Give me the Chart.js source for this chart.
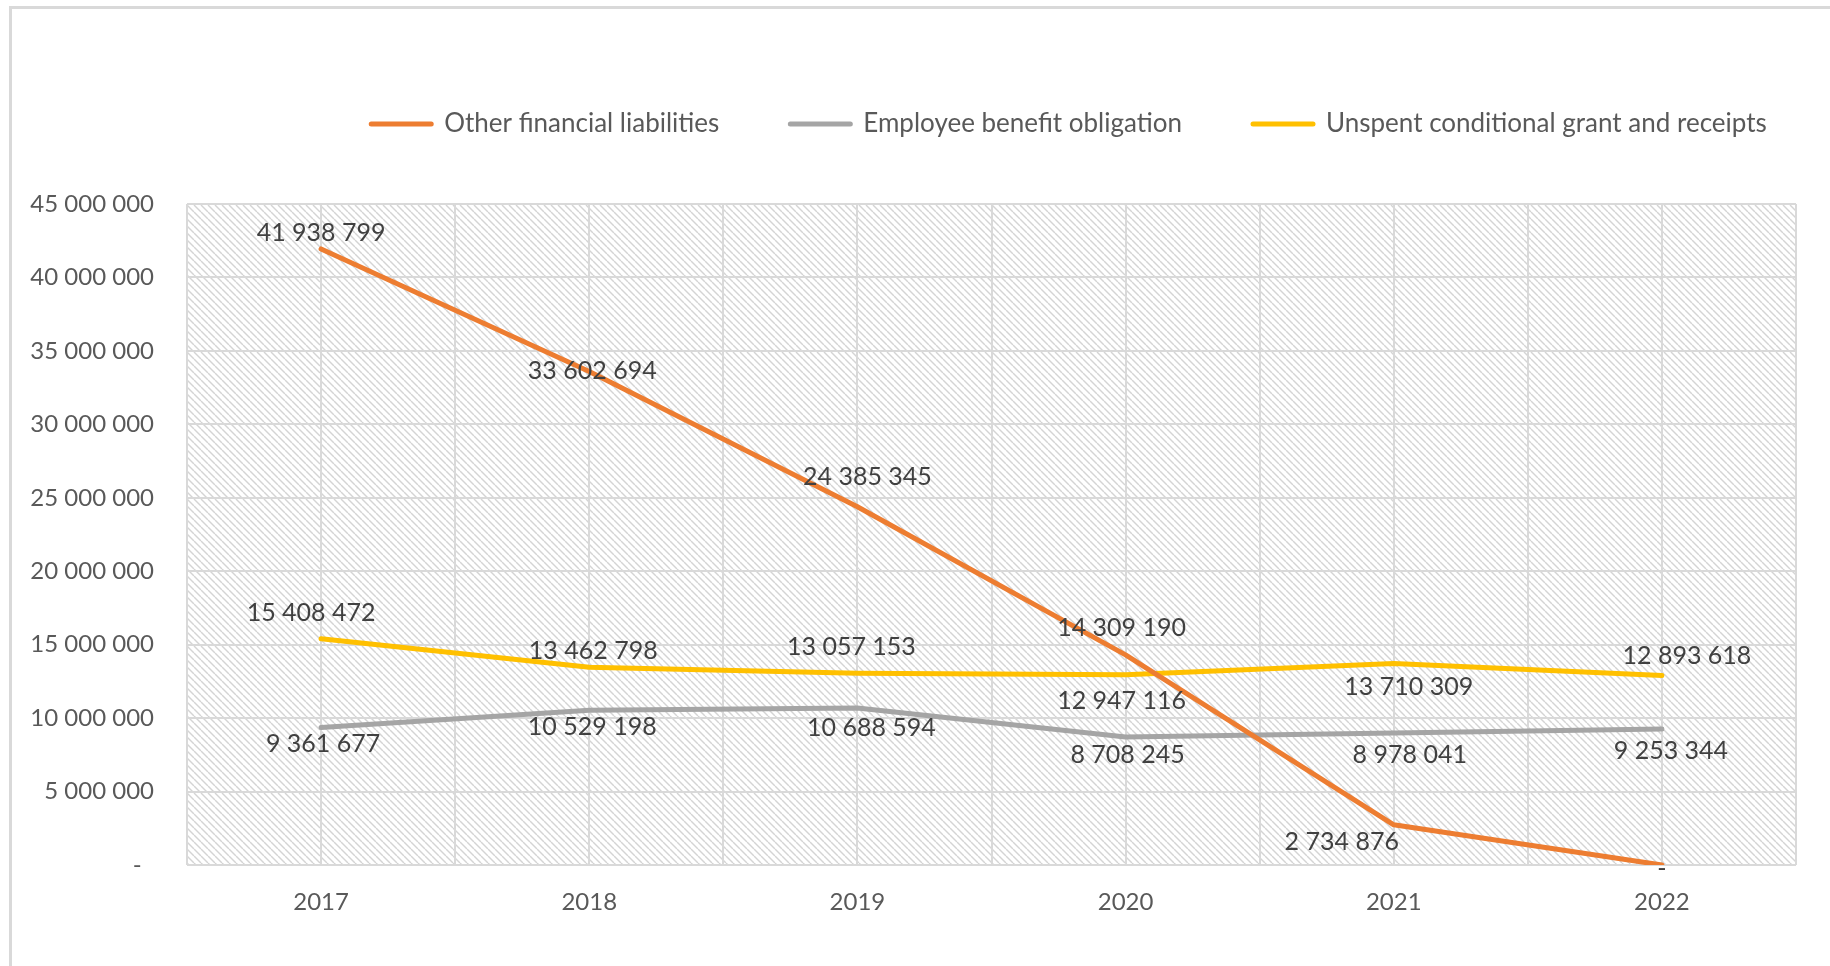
<!DOCTYPE html>
<html>
<head>
<meta charset="utf-8">
<title>Liabilities 2017 - 2022</title>
<script src="https://cdn.jsdelivr.net/npm/chart.js@4.4.1/dist/chart.umd.min.js"></script>
<style>
  html, body { margin: 0; padding: 0; background: #fff; overflow: hidden; }
  #frame { position: absolute; left: 9px; top: 6px; width: 1830px; height: 970px;
           border-top: 3px solid #d9d9d9; border-left: 3px solid #d9d9d9; }
  #chart-box { position: absolute; left: 12px; top: 9px; width: 1818px; height: 957px; }
</style>
</head>
<body>
<div id="frame"></div>
<div id="chart-box"><canvas id="liabilities-chart"></canvas></div>
<script>
// values
var years = ["2017", "2018", "2019", "2020", "2021", "2022"];
var otherFinancial = [41938799, 33602694, 24385345, 14309190, 2734876, 0];
var employeeBenefit = [9361677, 10529198, 10688594, 8708245, 8978041, 9253344];
var unspentGrant = [15408472, 13462798, 13057153, 12947116, 13710309, 12893618];
var yMax = 45000000;
var yStep = 5000000;

// where each value label sits relative to its point (dx, dy)
var otherLabelPos = [[0, -16], [3, 0], [10, -30], [-4, -27], [-52, 17], [0, 4]];
var employeeLabelPos = [[2, 16], [3, 17], [14, 20], [2, 18], [16, 22], [9, 22]];
var unspentLabelPos = [[-10, -26], [4, -16], [-6, -26], [-4, 26], [15, 23], [25, -20]];

function formatNumber(v) {
    if (v === 0) return '-';
    return String(v).replace(/\B(?=(\d{3})+(?!\d))/g, ' ');
}

function makeHatch(ctx) {
    var tile = document.createElement('canvas');
    tile.width = 7;
    tile.height = 7;
    var t = tile.getContext('2d');
    t.fillStyle = '#ffffff';
    t.fillRect(0, 0, 7, 7);
    t.strokeStyle = '#d4d4d4';
    t.lineWidth = 1.4;
    for (var k = -1; k <= 1; k++) {
        t.beginPath();
        t.moveTo(k * 7, 0);
        t.lineTo(k * 7 + 7, 7);
        t.stroke();
    }
    return ctx.createPattern(tile, 'repeat');
}

var hatchBackground = {
    id: 'hatchBackground',
    beforeDraw: function(chart) {
        var area = chart.chartArea, ctx = chart.ctx;
        if (!this.pattern) this.pattern = makeHatch(ctx);
        ctx.save();
        ctx.fillStyle = this.pattern;
        ctx.fillRect(area.left, area.top, area.right - area.left, area.bottom - area.top);
        ctx.restore();
    }
};

var valueLabels = {
    id: 'valueLabels',
    afterDatasetsDraw: function(chart) {
        var ctx = chart.ctx;
        ctx.save();
        ctx.font = '25px Lato';
        ctx.fillStyle = '#404040';
        ctx.textAlign = 'center';
        ctx.textBaseline = 'middle';
        chart.data.datasets.forEach(function(ds, i) {
            chart.getDatasetMeta(i).data.forEach(function(pt, j) {
                var off = ds.labelPos[j];
                ctx.fillText(formatNumber(ds.data[j]), pt.x + off[0], pt.y + off[1]);
            });
        });
        ctx.restore();
    }
};

// more room under the legend, and legend pushed right like the original
var legendSpacing = {
    id: 'legendSpacing',
    beforeInit: function(chart) {
        var fitLegend = chart.legend.fit;
        chart.legend.fit = function() {
            fitLegend.bind(chart.legend)();
            this.height += 57;
        };
    },
    afterLayout: function(chart) {
        chart.legend.left += 165;
        chart.legend.right += 165;
    }
};

var tickFont = { family: 'Lato', size: 24 };

new Chart(document.getElementById('liabilities-chart'), {
    type: 'line',
    data: {
        labels: years,
        datasets: [
            {
                label: 'Other financial liabilities',
                data: otherFinancial,
                labelPos: otherLabelPos,
                borderColor: '#ED7D31',
                backgroundColor: '#ED7D31'
            },
            {
                label: 'Employee benefit obligation',
                data: employeeBenefit,
                labelPos: employeeLabelPos,
                borderColor: '#A5A5A5',
                backgroundColor: '#A5A5A5'
            },
            {
                label: 'Unspent conditional grant and receipts',
                data: unspentGrant,
                labelPos: unspentLabelPos,
                borderColor: '#FFC000',
                backgroundColor: '#FFC000'
            }
        ]
    },
    options: {
        responsive: true,
        maintainAspectRatio: false,
        animation: false,
        layout: { padding: { top: 31, right: 34, bottom: 0, left: 0 } },
        elements: {
            line: { borderWidth: 5, tension: 0, fill: false, borderCapStyle: 'round', borderJoinStyle: 'round' },
            point: { radius: 0, hoverRadius: 0 }
        },
        plugins: {
            legend: {
                position: 'top',
                align: 'center',
                labels: {
                    color: '#595959',
                    font: { family: 'Lato', size: 26 },
                    boxWidth: 60,
                    boxHeight: 0,
                    padding: 71
                }
            },
            tooltip: { enabled: false }
        },
        scales: {
            x: {
                offset: true,
                grid: { color: '#d9d9d9', lineWidth: 2, drawTicks: false },
                border: { display: false },
                ticks: { color: '#595959', font: tickFont, padding: 23 },
                afterFit: function(axis) { axis.height = 101; }
            },
            xBounds: {
                type: 'category',
                labels: years,
                position: 'bottom',
                offset: true,
                grid: { offset: true, color: '#d9d9d9', lineWidth: 2, drawTicks: false },
                border: { display: false },
                ticks: { display: false },
                afterFit: function(axis) { axis.height = 0; }
            },
            y: {
                min: 0,
                max: yMax,
                grid: { color: '#d9d9d9', lineWidth: 2, drawTicks: false },
                border: { display: false },
                ticks: {
                    stepSize: yStep,
                    padding: 33,
                    color: '#595959',
                    font: tickFont,
                    callback: function(value) { return value === 0 ? '-  ' : formatNumber(value); }
                },
                afterFit: function(axis) { axis.width = 175; }
            }
        }
    },
    plugins: [hatchBackground, valueLabels, legendSpacing]
});
</script>
</body>
</html>
